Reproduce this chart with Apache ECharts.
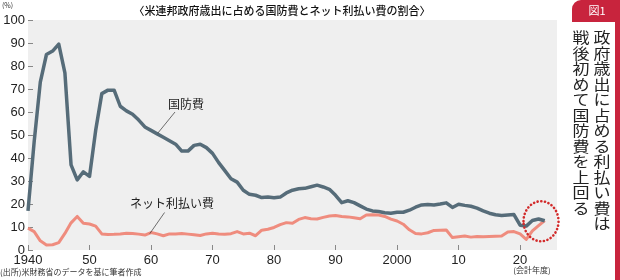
<!DOCTYPE html>
<html>
<head>
<meta charset="utf-8">
<script src="https://cdn.jsdelivr.net/npm/echarts@6/dist/echarts.min.js"></script>
<style>
  html, body { margin: 0; padding: 0; background: #fff; }
  #chart { width: 620px; height: 280px; }
</style>
</head>
<body>
<div id="chart"></div>
<script>
// 会計年度 1940-2024
const years = [];
for (let y = 1940; y <= 2024; y++) years.push(y);

// 国防費の割合(%)
const defense = [
  17, 47, 73, 85, 86.5, 89.5, 77, 37, 30.5, 34,
  32, 52, 68, 69.5, 69.5, 62.5, 60.5, 59, 56.5, 53.5,
  52, 50.5, 49, 47.5, 46, 43, 43, 45.5, 46, 44.5,
  42, 38, 34.5, 31, 29.5, 26, 24.2, 23.8, 22.8, 23,
  22.7, 23, 24.8, 26, 26.6, 26.8, 27.5, 28.2, 27.4, 26.4,
  23.8, 20.6, 21.4, 20.6, 19.2, 17.8, 17, 16.7, 16.2, 16,
  16.4, 16.4, 17.3, 18.6, 19.6, 19.8, 19.6, 20, 20.5, 18.5,
  19.9, 19.4, 19, 18.2, 17, 16, 15.3, 15, 15.2, 15.4,
  10.8, 10.4, 12.8, 13.5, 12.7
];

// ネット利払い費の割合(%)
const interest = [
  9.5, 8, 4, 2.2, 2.3, 3.2, 7.2, 11.8, 14.6, 11.6,
  11.3, 10.4, 7, 6.7, 6.8, 7, 7.3, 7.2, 6.9, 6.5,
  7.6, 7, 6.2, 7, 7, 7.2, 6.9, 6.6, 6.3, 7,
  7.3, 7, 6.8, 7.1, 8, 7, 7.3, 6.2, 8.6, 9,
  9.8, 11, 11.9, 11.6, 13.3, 14.1, 13.6, 13.5, 14.2, 14.8,
  15, 14.6, 14.4, 14, 13.6, 15.2, 15.3, 15.2, 14.6, 13.4,
  12.6, 11.2, 8.8, 7.2, 7, 7.5, 8.5, 8.6, 8.7, 5.4,
  5.8, 6.1, 5.6, 5.9, 5.8, 5.9, 6, 6.1, 7.8, 8,
  7, 4.6, 8.3, 10.6, 12.8
];

const xTicks = [1940, 1950, 1960, 1970, 1980, 1990, 2000, 2010, 2020];
const yTicks = [0, 10, 20, 30, 40, 50, 60, 70, 80, 90, 100];

const pair = (arr) => arr.map((v, i) => [years[i], v]);

const chart = echarts.init(document.getElementById('chart'));

const option = {
  animation: false,
  grid: {
    left: 28, right: 63, top: 20, bottom: 30,
    show: true, backgroundColor: '#efefef', borderWidth: 0
  },
  xAxis: {
    type: 'value',
    min: 1940,
    max: 2026,
    axisLine: { show: false },
    splitLine: { show: false },
    axisTick: { show: true, inside: true, length: 5, customValues: xTicks, lineStyle: { color: '#888', width: 1 } },
    axisLabel: {
      customValues: xTicks,
      margin: 4,
      color: '#222',
      fontFamily: 'Liberation Sans',
      fontSize: 13,
      formatter: (v) => (v === 1940 || v === 2000) ? String(v) : String(v % 100).replace(/^0(\d)$/, '$1')
    }
  },
  yAxis: {
    type: 'value',
    min: 0,
    max: 100,
    interval: 10,
    axisLine: { show: false },
    splitLine: { show: false },
    axisTick: { show: true, inside: true, length: 5, lineStyle: { color: '#888', width: 1 } },
    axisLabel: {
      margin: 3,
      color: '#222',
      fontFamily: 'Liberation Sans',
      fontSize: 13,
      formatter: (v) => yTicks.includes(v) ? String(v) : ''
    }
  },
  series: [
    {
      name: '国防費',
      type: 'line',
      data: pair(defense),
      showSymbol: false,
      lineStyle: { color: '#566c79', width: 3.5, join: 'round' },
      z: 3
    },
    {
      name: 'ネット利払い費',
      type: 'line',
      data: pair(interest),
      showSymbol: false,
      lineStyle: { color: '#ef8c7e', width: 3, join: 'round' },
      z: 2
    }
  ]
};

chart.setOption(option);

// 注記(データ座標からピクセルへ変換)
const px = (x, y) => chart.convertToPixel({ gridIndex: 0 }, [x, y]);
const defLabel = px(1965.7, 63.4);
const defA = px(1963.9, 60);
const defB = px(1961.1, 50.8);
const intLabel = px(1963.4, 20.2);
const intA = px(1962.2, 16.3);
const intB = px(1959.8, 7.1);
const circ = px(2023.4, 12.5);

const jp = '"Noto Sans CJK JP", sans-serif';
const col1 = '政府歳出に占める利払い費は'.split('').join('\n');
const col2 = '戦後初めて国防費を上回る'.split('').join('\n');

chart.setOption({
  graphic: [
    { type: 'text', x: 282, y: 11, style: { text: '〈米連邦政府歳出に占める国防費とネット利払い費の割合〉', fill: '#111', font: '500 11px ' + jp, align: 'center', verticalAlign: 'middle' } },
    { type: 'text', x: 2, y: 2, style: { text: '(%)', fill: '#333', font: '7px ' + jp } },
    { type: 'text', x: 0, y: 268, style: { text: '(出所)米財務省のデータを基に筆者作成', fill: '#333', font: '8px ' + jp } },
    { type: 'text', x: 532, y: 270, style: { text: '(会計年度)', fill: '#333', font: '8px ' + jp, align: 'center', verticalAlign: 'middle' } },

    { type: 'text', x: defLabel[0], y: defLabel[1], style: { text: '国防費', fill: '#222', font: '12px ' + jp, align: 'center', verticalAlign: 'middle' }, z: 10 },
    { type: 'line', shape: { x1: defA[0], y1: defA[1], x2: defB[0], y2: defB[1] }, style: { stroke: '#333', lineWidth: 0.7 }, z: 10 },
    { type: 'text', x: intLabel[0], y: intLabel[1], style: { text: 'ネット利払い費', fill: '#222', font: '12px ' + jp, align: 'center', verticalAlign: 'middle' }, z: 10 },
    { type: 'line', shape: { x1: intA[0], y1: intA[1], x2: intB[0], y2: intB[1] }, style: { stroke: '#333', lineWidth: 0.7 }, z: 10 },

    { type: 'ellipse', shape: { cx: circ[0], cy: circ[1], rx: 17.5, ry: 20 }, style: { fill: 'none', stroke: '#d22b2b', lineWidth: 2.6, lineDash: [0.1, 3.6], lineCap: 'round' }, z: 10 },

    // 右側の見出し
    { type: 'rect', shape: { x: 572, y: 0, width: 48, height: 22, r: [9, 0, 0, 0] }, style: { fill: '#c8243d' } },
    { type: 'rect', shape: { x: 615, y: 0, width: 5, height: 280 }, style: { fill: '#c8243d' } },
    { type: 'text', x: 597, y: 11, style: { text: '図1', fill: '#fff', font: '11px ' + jp, align: 'center', verticalAlign: 'middle' } },
    { type: 'text', x: 602, y: 30, scaleY: 0.86, style: { text: col1, fill: '#222', font: '17px ' + jp, align: 'center', verticalAlign: 'top', lineHeight: 18 } },
    { type: 'text', x: 581, y: 30, scaleY: 0.86, style: { text: col2, fill: '#222', font: '17px ' + jp, align: 'center', verticalAlign: 'top', lineHeight: 18 } }
  ]
});
</script>
</body>
</html>
